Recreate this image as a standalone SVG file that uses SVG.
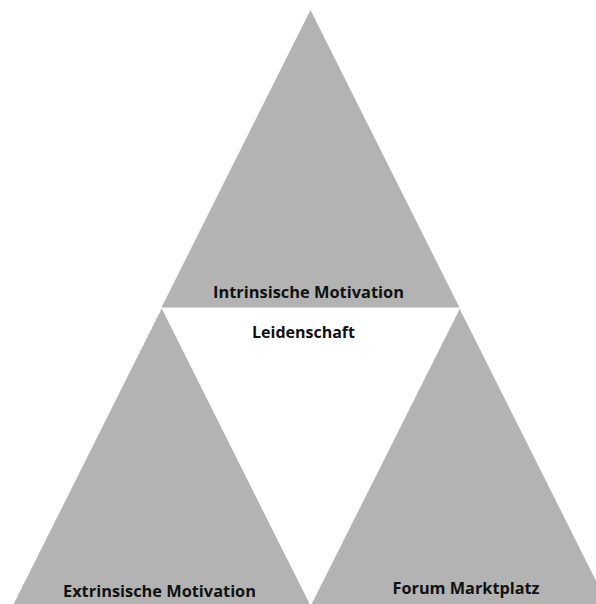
<svg xmlns="http://www.w3.org/2000/svg" width="596" height="604" viewBox="0 0 596 604">
<style>
.tri{fill:#b3b3b3;stroke:none}
.lbl{font-family:"Open Sans","Liberation Sans",sans-serif;font-weight:bold;font-size:16px;fill:#111;text-anchor:middle}
</style>
<rect width="596" height="604" fill="#ffffff"/>
<g id="top">
<polygon class="tri" points="310.5,10 161.5,307.5 459.5,307.5"/>
<text class="lbl" x="308.5" y="297.5" textLength="191" lengthAdjust="spacingAndGlyphs">Intrinsische Motivation</text>
</g>
<g id="center">
<text class="lbl" x="303.5" y="337.5" textLength="103" lengthAdjust="spacingAndGlyphs">Leidenschaft</text>
</g>
<g id="left">
<polygon class="tri" points="161.7,308.5 13.7,604 309.7,604"/>
<text class="lbl" x="159.5" y="596.5" textLength="193" lengthAdjust="spacingAndGlyphs">Extrinsische Motivation</text>
</g>
<g id="right">
<polygon class="tri" points="459.7,309 311.7,604 607.7,604"/>
<text class="lbl" x="466" y="594" textLength="147" lengthAdjust="spacingAndGlyphs">Forum Marktplatz</text>
</g>
<g id="connectors"></g>
</svg>
